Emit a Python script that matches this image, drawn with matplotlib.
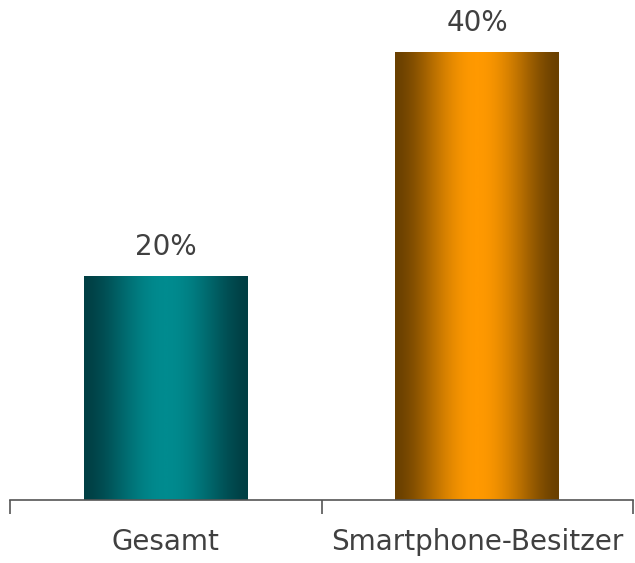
import numpy as np
import matplotlib
matplotlib.use("Agg")
import matplotlib.pyplot as plt
from matplotlib.colors import LinearSegmentedColormap

# Data
categories = ["Gesamt", "Smartphone-Besitzer"]
values = [20, 40]
value_labels = ["20%", "40%"]
edge_colors = ["#003f44", "#6a4000"]
mid_colors = ["#008b8f", "#ff9900"]

fig = plt.figure(figsize=(6.35, 5.63), dpi=100)
ax = fig.add_axes([10 / 635, 63 / 563, 623 / 635, 500 / 563])

x = np.arange(len(categories))
bars = ax.bar(x, values, width=0.525, color="none", edgecolor="none")

ax.set_xlim(-0.5, 1.5)
ax.set_ylim(0, 40 * 500 / 448)

# Cylinder-like horizontal gradient inside each bar
t = np.linspace(0, 1, 256)
grad = np.sin(np.pi * t).reshape(1, -1) ** 1.6
for bar, c0, c1 in zip(bars, edge_colors, mid_colors):
    cmap = LinearSegmentedColormap.from_list("g", [c0, c1])
    x0, y0 = bar.get_x(), bar.get_y()
    w, h = bar.get_width(), bar.get_height()
    im = ax.imshow(grad, cmap=cmap, aspect="auto", extent=(x0, x0 + w, y0, y0 + h),
                   interpolation="bicubic", vmin=0, vmax=1, zorder=2)
    im.set_clip_path(bar)

for xi, v, lab in zip(x, values, value_labels):
    ax.annotate(lab, (xi, v), xytext=(0, 21), textcoords="offset points",
                ha="center", va="center", fontsize=20, color="#404040")

# Axis: only bottom spine with category boundary ticks
for side in ["top", "right", "left"]:
    ax.spines[side].set_visible(False)
ax.spines["bottom"].set_color("#555555")
ax.spines["bottom"].set_linewidth(1.2)
ax.set_yticks([])
ax.set_xticks([-0.5, 0.5, 1.5])
ax.set_xticklabels([])
ax.tick_params(axis="x", direction="out", length=10, width=1.2, color="#555555")
ax.set_xticks(x, minor=True)
ax.set_xticklabels(categories, minor=True, fontsize=20, color="#404040")
ax.tick_params(axis="x", which="minor", length=0, pad=20)

fig.savefig("out.png", dpi=100)
